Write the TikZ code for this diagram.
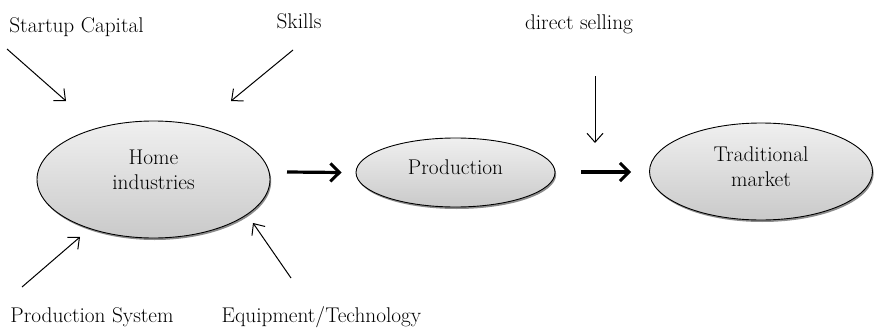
\documentclass[tikz,border=0pt]{standalone}
\usepackage{amsmath}
\usepackage{fontspec}
\usetikzlibrary{shapes.geometric,arrows.meta,shadows}

\tikzset{
  blob/.style={ellipse, draw, line width=0.9pt, inner sep=0pt,
    top color=gray!12, bottom color=gray!42,
    drop shadow={shadow xshift=1.2pt, shadow yshift=-2pt, opacity=0.45, fill=black}},
  lbl/.style={font=\fontsize{21.3}{25}\selectfont, inner sep=0pt, align=center},
  thin/.style={-{Straight Barb[length=9pt,width=16pt,line width=1pt]}, line width=1pt},
  fat/.style={-{Straight Barb[length=9pt,width=18pt,line width=3pt]}, line width=3.2pt}
}

\begin{document}
\begin{tikzpicture}[x=1pt,y=-1pt]
        \useasboundingbox (0,0) rectangle (874,329);
        % Ellipses
        \node[blob, minimum width=233pt, minimum height=117pt] (home) at (153.5,179.5) {};
        \node[blob, minimum width=199pt, minimum height=69pt] (prod) at (455.5,172.5) {};
        \node[blob, minimum width=223pt, minimum height=97pt] (trad) at (761,171.5) {};
        \node[lbl] (hometxt) at ([yshift=10pt]home) {Home\\industries};
        \node[lbl] (prodtxt) at ([yshift=5pt]prod) {Production};
        \node[lbl] (tradtxt) at ([yshift=5pt]trad) {Traditional\\market};
        % Labels
        \node[lbl] (cap) at (76.5,27) {Startup Capital};
        \node[lbl] (skl) at (299,21) {Skills};
        \node[lbl] (dir) at (579,24) {direct selling};
        \node[lbl] (sys) at (92,317) {Production System};
        \node[lbl] (tec) at (321.5,317) {Equipment/Technology};
        % Ends of the small arrows
        \coordinate (c1) at (7,49);    \coordinate (c2) at (66,101);
        \coordinate (s1) at (293,50);  \coordinate (s2) at (231,101);
        \coordinate (p1) at (22,287);  \coordinate (p2) at (80,237);
        \coordinate (e1) at (291,278); \coordinate (e2) at (253,223);
        \coordinate (d1) at (595,76);  \coordinate (d2) at (595,143);
        \draw[thin] (c1) -- (c2);
        \draw[thin] (s1) -- (s2);
        \draw[thin] (p1) -- (p2);
        \draw[thin] (e1) -- (e2);
        \draw[thin] (d1) -- (d2);
        % Big arrows
        \coordinate (h1) at (287,172);
        \coordinate (m1) at (581,172);
        \draw[fat] (h1) -- ([xshift=-14pt]prod.west);
        \draw[fat] (m1) -- ([xshift=-18pt]trad.west |- m1);
\end{tikzpicture}
\end{document}
